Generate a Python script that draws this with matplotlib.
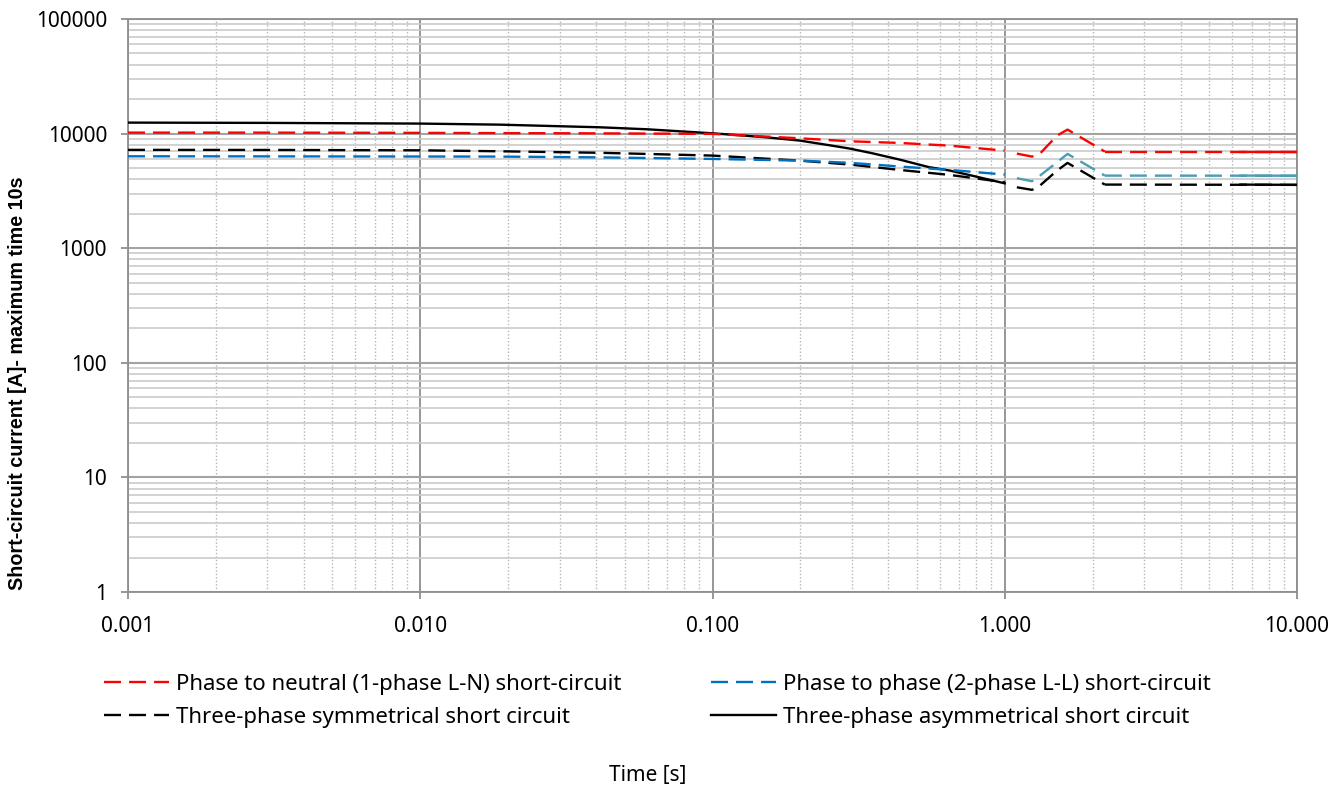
import matplotlib
matplotlib.use("Agg")
import matplotlib.pyplot as plt
from matplotlib.lines import Line2D
from matplotlib.ticker import FixedLocator, FuncFormatter, LogLocator, NullFormatter

plt.rcParams['font.family'] = ['Noto Sans', 'DejaVu Sans']

# --- data (time in s, current in A) ---
t_decay = [0.001, 0.003, 0.01, 0.0187, 0.0412, 0.1, 0.199, 0.295, 0.437, 0.648, 1.0]
ln_decay = [10200, 10200, 10150, 10100, 10050, 9950, 9100, 8570, 8290, 7850, 7100]
ll_decay = [6340, 6330, 6310, 6300, 6200, 6010, 5810, 5560, 5160, 4820, 4390]
sym_decay = [7210, 7200, 7150, 7010, 6800, 6430, 5810, 5370, 4820, 4360, 3760]

t_asym = [0.001, 0.003, 0.01, 0.0187, 0.0412, 0.06, 0.1, 0.15, 0.199, 0.25, 0.295,
          0.35, 0.437, 0.55, 0.648, 0.8, 1.0]
asym_decay = [12470, 12400, 12230, 11970, 11350, 10900, 10060, 9320, 8690, 7930, 7400,
              6760, 5930, 5100, 4760, 4210, 3680]

t_bump = [1.10, 1.24, 1.32, 1.51, 1.64, 2.2]
ln_bump = [6690, 6300, 6690, 9610, 10840, 6970]
ll_bump = [4080, 3840, 4300, 5620, 6650, 4300]
sym_bump = [3400, 3230, 3520, 4760, 5550, 3590]

t_steady = [2.2, 10.0]
t_steady_solid = [6.4, 10.0]
ln_steady = [6970, 6970]
ll_steady = [4300, 4290]
sym_steady = [3590, 3570]

labels = ["Phase to neutral (1-phase L-N) short-circuit",
          "Three-phase symmetrical short circuit",
          "Phase to phase (2-phase L-L) short-circuit",
          "Three-phase asymmetrical short circuit"]

RED = '#ff0000'
BLUE = '#0070c0'
TEAL = '#4a9db3'
BLACK = '#000000'
LW = 1.7
DASH = (7.2, 3.4)

fig = plt.figure(figsize=(13.44, 7.89), dpi=100)
ax = fig.add_axes([128 / 1344, 1 - 592 / 789, (1297 - 128) / 1344, (592 - 19) / 789])
ax.set_xscale('log')
ax.set_yscale('log')
ax.set_xlim(0.001, 10)
ax.set_ylim(1, 100000)

# grid like the spreadsheet original
ax.grid(which='major', axis='x', color='#8f8f8f', lw=1.3)
ax.grid(which='major', axis='y', color='#a3a3a3', lw=1.5)
ax.grid(which='minor', axis='y', color='#cbcbcb', lw=1.2)
ax.grid(which='minor', axis='x', color='#b5b5b5', lw=1.0, linestyle=(0, (1, 1.5)))
ax.set_axisbelow(True)

# first stretch: decay up to 1 s
ax.plot(t_asym, asym_decay, color=BLACK, lw=LW, zorder=3)
ax.plot(t_decay, ln_decay, color=RED, lw=LW, dashes=DASH, zorder=3)
ax.plot(t_decay, sym_decay, color=BLACK, lw=LW, dashes=DASH, zorder=3)
ax.plot(t_decay, ll_decay, color=BLUE, lw=LW, dashes=DASH, zorder=3)

# bump after 1 s
ax.plot(t_bump, ln_bump, color=RED, lw=LW, dashes=DASH, zorder=3)
ax.plot(t_bump, ll_bump, color=TEAL, lw=LW, dashes=DASH, zorder=3)
ax.plot(t_bump, sym_bump, color=BLACK, lw=LW, dashes=DASH, zorder=3)

# steady state
for vals, col in [(ln_steady, RED), (ll_steady, TEAL), (sym_steady, BLACK)]:
    ax.plot(t_steady, vals, color=col, lw=LW, dashes=DASH, zorder=3)
    ax.plot(t_steady_solid, [vals[0], vals[-1]], color=col, lw=LW, zorder=3)

for s in ax.spines.values():
    s.set_color('#8f8f8f')
    s.set_linewidth(1.3)

ax.xaxis.set_major_locator(FixedLocator([0.001, 0.01, 0.1, 1, 10]))
ax.xaxis.set_major_formatter(FuncFormatter(lambda v, _: f"{v:.3f}"))
ax.xaxis.set_minor_locator(LogLocator(base=10, subs=range(2, 10), numticks=20))
ax.xaxis.set_minor_formatter(NullFormatter())
ax.yaxis.set_major_locator(FixedLocator([1, 10, 100, 1000, 10000, 100000]))
ax.yaxis.set_major_formatter(FuncFormatter(lambda v, _: f"{v:.0f}"))
ax.yaxis.set_minor_locator(LogLocator(base=10, subs=range(2, 10), numticks=20))
ax.yaxis.set_minor_formatter(NullFormatter())
ax.tick_params(which='major', direction='out', length=5, width=1.3, color='#8f8f8f', labelsize=15)
ax.tick_params(which='minor', length=0)
ax.tick_params(axis='y', pad=10)
ax.tick_params(axis='x', pad=12)

ax.set_ylabel("Short-circuit current [A]- maximum time 10s", family='Liberation Sans',
              fontweight='bold', fontsize=14.2)
ax.yaxis.set_label_coords(-0.086, 0.364)
fig.text(648 / 1344, 1 - 775 / 789, "Time [s]", ha='center', va='center', fontsize=15)

handles = [Line2D([], [], color=RED, lw=LW, dashes=DASH),
           Line2D([], [], color=BLACK, lw=LW, dashes=DASH),
           Line2D([], [], color=BLUE, lw=LW, dashes=DASH),
           Line2D([], [], color=BLACK, lw=LW)]
fig.legend(handles, labels, ncol=2, loc='upper left', bbox_to_anchor=(104 / 1344, 1 - 674 / 789),
           frameon=False, fontsize=16, handlelength=2.93, handletextpad=0.3,
           columnspacing=4.05, labelspacing=0.52, borderpad=0, borderaxespad=0)

fig.savefig("out.png", dpi=100)
